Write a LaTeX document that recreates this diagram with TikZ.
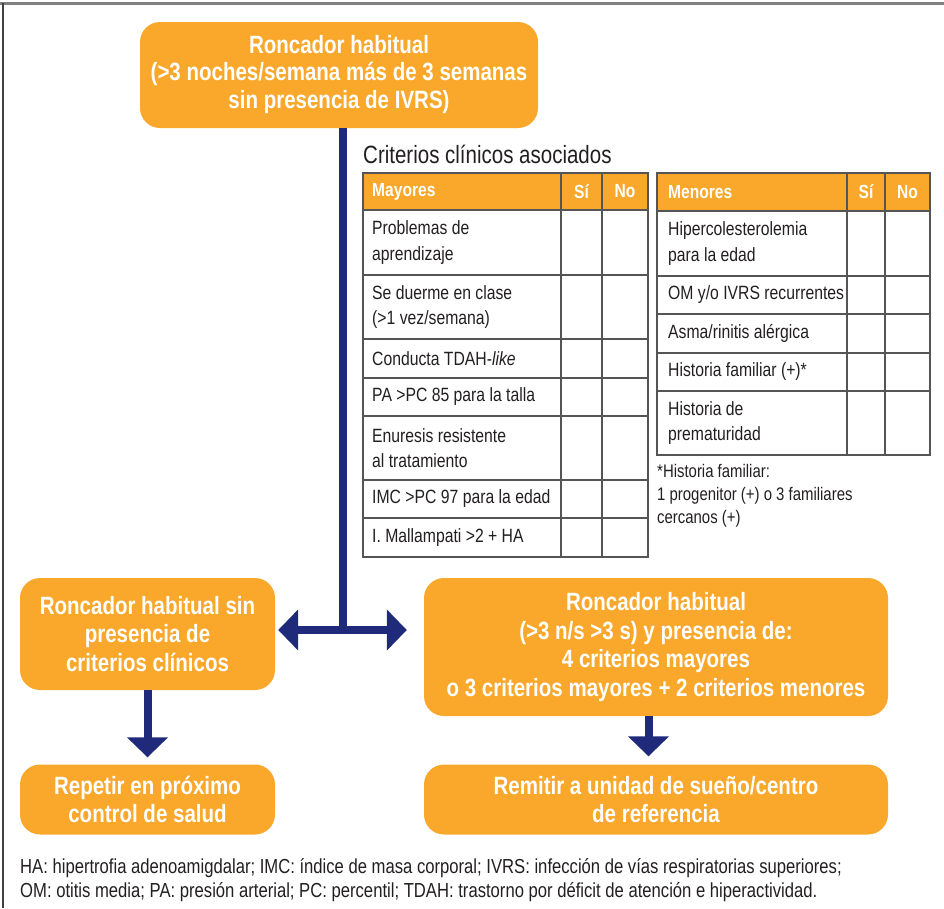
\documentclass[tikz,border=0pt]{standalone}
\usepackage{fontspec}
\setmainfont[FakeStretch=0.82]{Liberation Sans}
\usetikzlibrary{arrows.meta}
\definecolor{org}{HTML}{F9A82B}
\definecolor{navy}{HTML}{1F2A7B}
\definecolor{tline}{HTML}{555555}
\definecolor{ink}{HTML}{231F20}
\begin{document}
\begin{tikzpicture}[x=1pt,y=-1pt,
  box/.style={fill=org, rounded corners=20pt, text=white, font=\bfseries\fontsize{25}{28.5}\selectfont, align=center, inner sep=0pt},
  cell/.style={anchor=west, align=left, text=ink, font=\fontsize{19.2}{25.5}\selectfont, inner sep=0pt},
  hdr/.style={text=white, font=\bfseries\fontsize{19}{22}\selectfont, inner sep=0pt},
  note/.style={anchor=west, align=left, text=ink, font=\fontsize{18.2}{23}\selectfont, inner sep=0pt},
  foot/.style={anchor=west, text=ink, font=\fontsize{20.3}{24}\selectfont, inner sep=0pt},
  grid/.style={draw=tline, line width=1.3pt},
  conn/.style={draw=navy, line width=8pt},
  tip/.style={-{Triangle[length=20pt, width=40pt]}}
]
\useasboundingbox (0,0) rectangle (944,908);
% frame
\draw[line width=2.5pt, gray] (0,3.5) -- (944,3.5);
\draw[line width=1.2pt, darkgray] (3,3) -- (3,908);

% boxes
\node[box, minimum width=398pt, minimum height=106pt] (top) at (339,75)
  {\raisebox{-2pt}{Roncador habitual}\\(>3 noches/semana más de 3 semanas\\sin presencia de IVRS)};
\node[box, minimum width=255pt, minimum height=112pt] (lm) at (147.5,634)
  {Roncador habitual sin\\presencia de\\criterios clínicos};
\node[box, minimum width=464pt, minimum height=138pt] (rm) at (656,647)
  {Roncador habitual\\(>3 n/s >3 s) y presencia de:\\4 criterios mayores\\o 3 criterios mayores + 2 criterios menores};
\node[box, minimum width=255pt, minimum height=70pt] (lb) at (147.5,799.5)
  {Repetir en próximo\\control de salud};
\node[box, minimum width=464pt, minimum height=70pt] (rb) at (656,799.5)
  {Remitir a unidad de sueño/centro\\de referencia};

% connectors
\coordinate (j) at (343,630);
\coordinate (ra) at (648.5,0);
\draw[conn] (top.south -| j) -- (j);
\draw[conn, tip] (j) -- ([xshift=3pt]lm.east |- j);
\draw[conn, tip] (j) -- ([xshift=-17pt]rm.west |- j);
\draw[conn, tip, shorten >=7pt] (lm.south) -- (lb.north);
\draw[conn, tip, shorten >=8pt] (rm.south -| ra) -- (rb.north -| ra);

% title
\node[anchor=base west, text=ink, font=\fontsize{25}{28}\selectfont, inner sep=0pt] (title) at (363,163) {Criterios clínicos asociados};

% Mayores table
\fill[org] (363,173) rectangle (648,210);
\draw[grid] (363,173) rectangle (648,557);
\foreach \y in {210,275,339,378,416,480,518} \draw[grid] (363,\y) -- (648,\y);
\draw[grid] (561,173) -- (561,557);
\draw[grid] (602,173) -- (602,557);
\node[hdr, anchor=west] (mh) at (372,191.5) {Mayores};
\node[hdr] (ms) at (581.5,191.5) {Sí};
\node[hdr] (mn) at (625,191.5) {No};
\node[cell] (m1) at (372,242.5) {Problemas de\\aprendizaje};
\node[cell] (m2) at (372,307) {Se duerme en clase\\(>1 vez/semana)};
\node[cell] (m3) at (372,358.5) {Conducta TDAH-\textit{like}};
\node[cell] (m4) at (372,397) {PA >PC 85 para la talla};
\node[cell] (m5) at (372,448) {Enuresis resistente\\al tratamiento};
\node[cell] (m6) at (372,499) {IMC >PC 97 para la edad};
\node[cell] (m7) at (372,537.5) {I. Mallampati >2 + HA};

% Menores table
\fill[org] (657,173) rectangle (930,211);
\draw[grid] (657,173) rectangle (930,455);
\foreach \y in {211,276,314,353,391} \draw[grid] (657,\y) -- (930,\y);
\draw[grid] (847,173) -- (847,455);
\draw[grid] (885,173) -- (885,455);
\node[hdr, anchor=west] (nh) at (668,192) {Menores};
\node[hdr] (ns) at (866,192) {Sí};
\node[hdr] (nn) at (907.5,192) {No};
\node[cell] (n1) at (668,243.5) {Hipercolesterolemia\\para la edad};
\node[cell] (n2) at (668,295) {OM y/o IVRS recurrentes};
\node[cell] (n3) at (668,333.5) {Asma/rinitis alérgica};
\node[cell] (n4) at (668,372) {Historia familiar (+)*};
\node[cell] (n5) at (668,423) {Historia de\\prematuridad};
\node[note] (fn) at (657,496) {*Historia familiar:\\1 progenitor (+) o 3 familiares\\cercanos (+)};

% footnote
\node[foot] (f1) at (20,868) {HA: hipertrofia adenoamigdalar; IMC: índice de masa corporal; IVRS: infección de vías respiratorias superiores;};
\node[foot] (f2) at (20,892) {OM: otitis media; PA: presión arterial; PC: percentil; TDAH: trastorno por déficit de atención e hiperactividad.};
\end{tikzpicture}
\end{document}
